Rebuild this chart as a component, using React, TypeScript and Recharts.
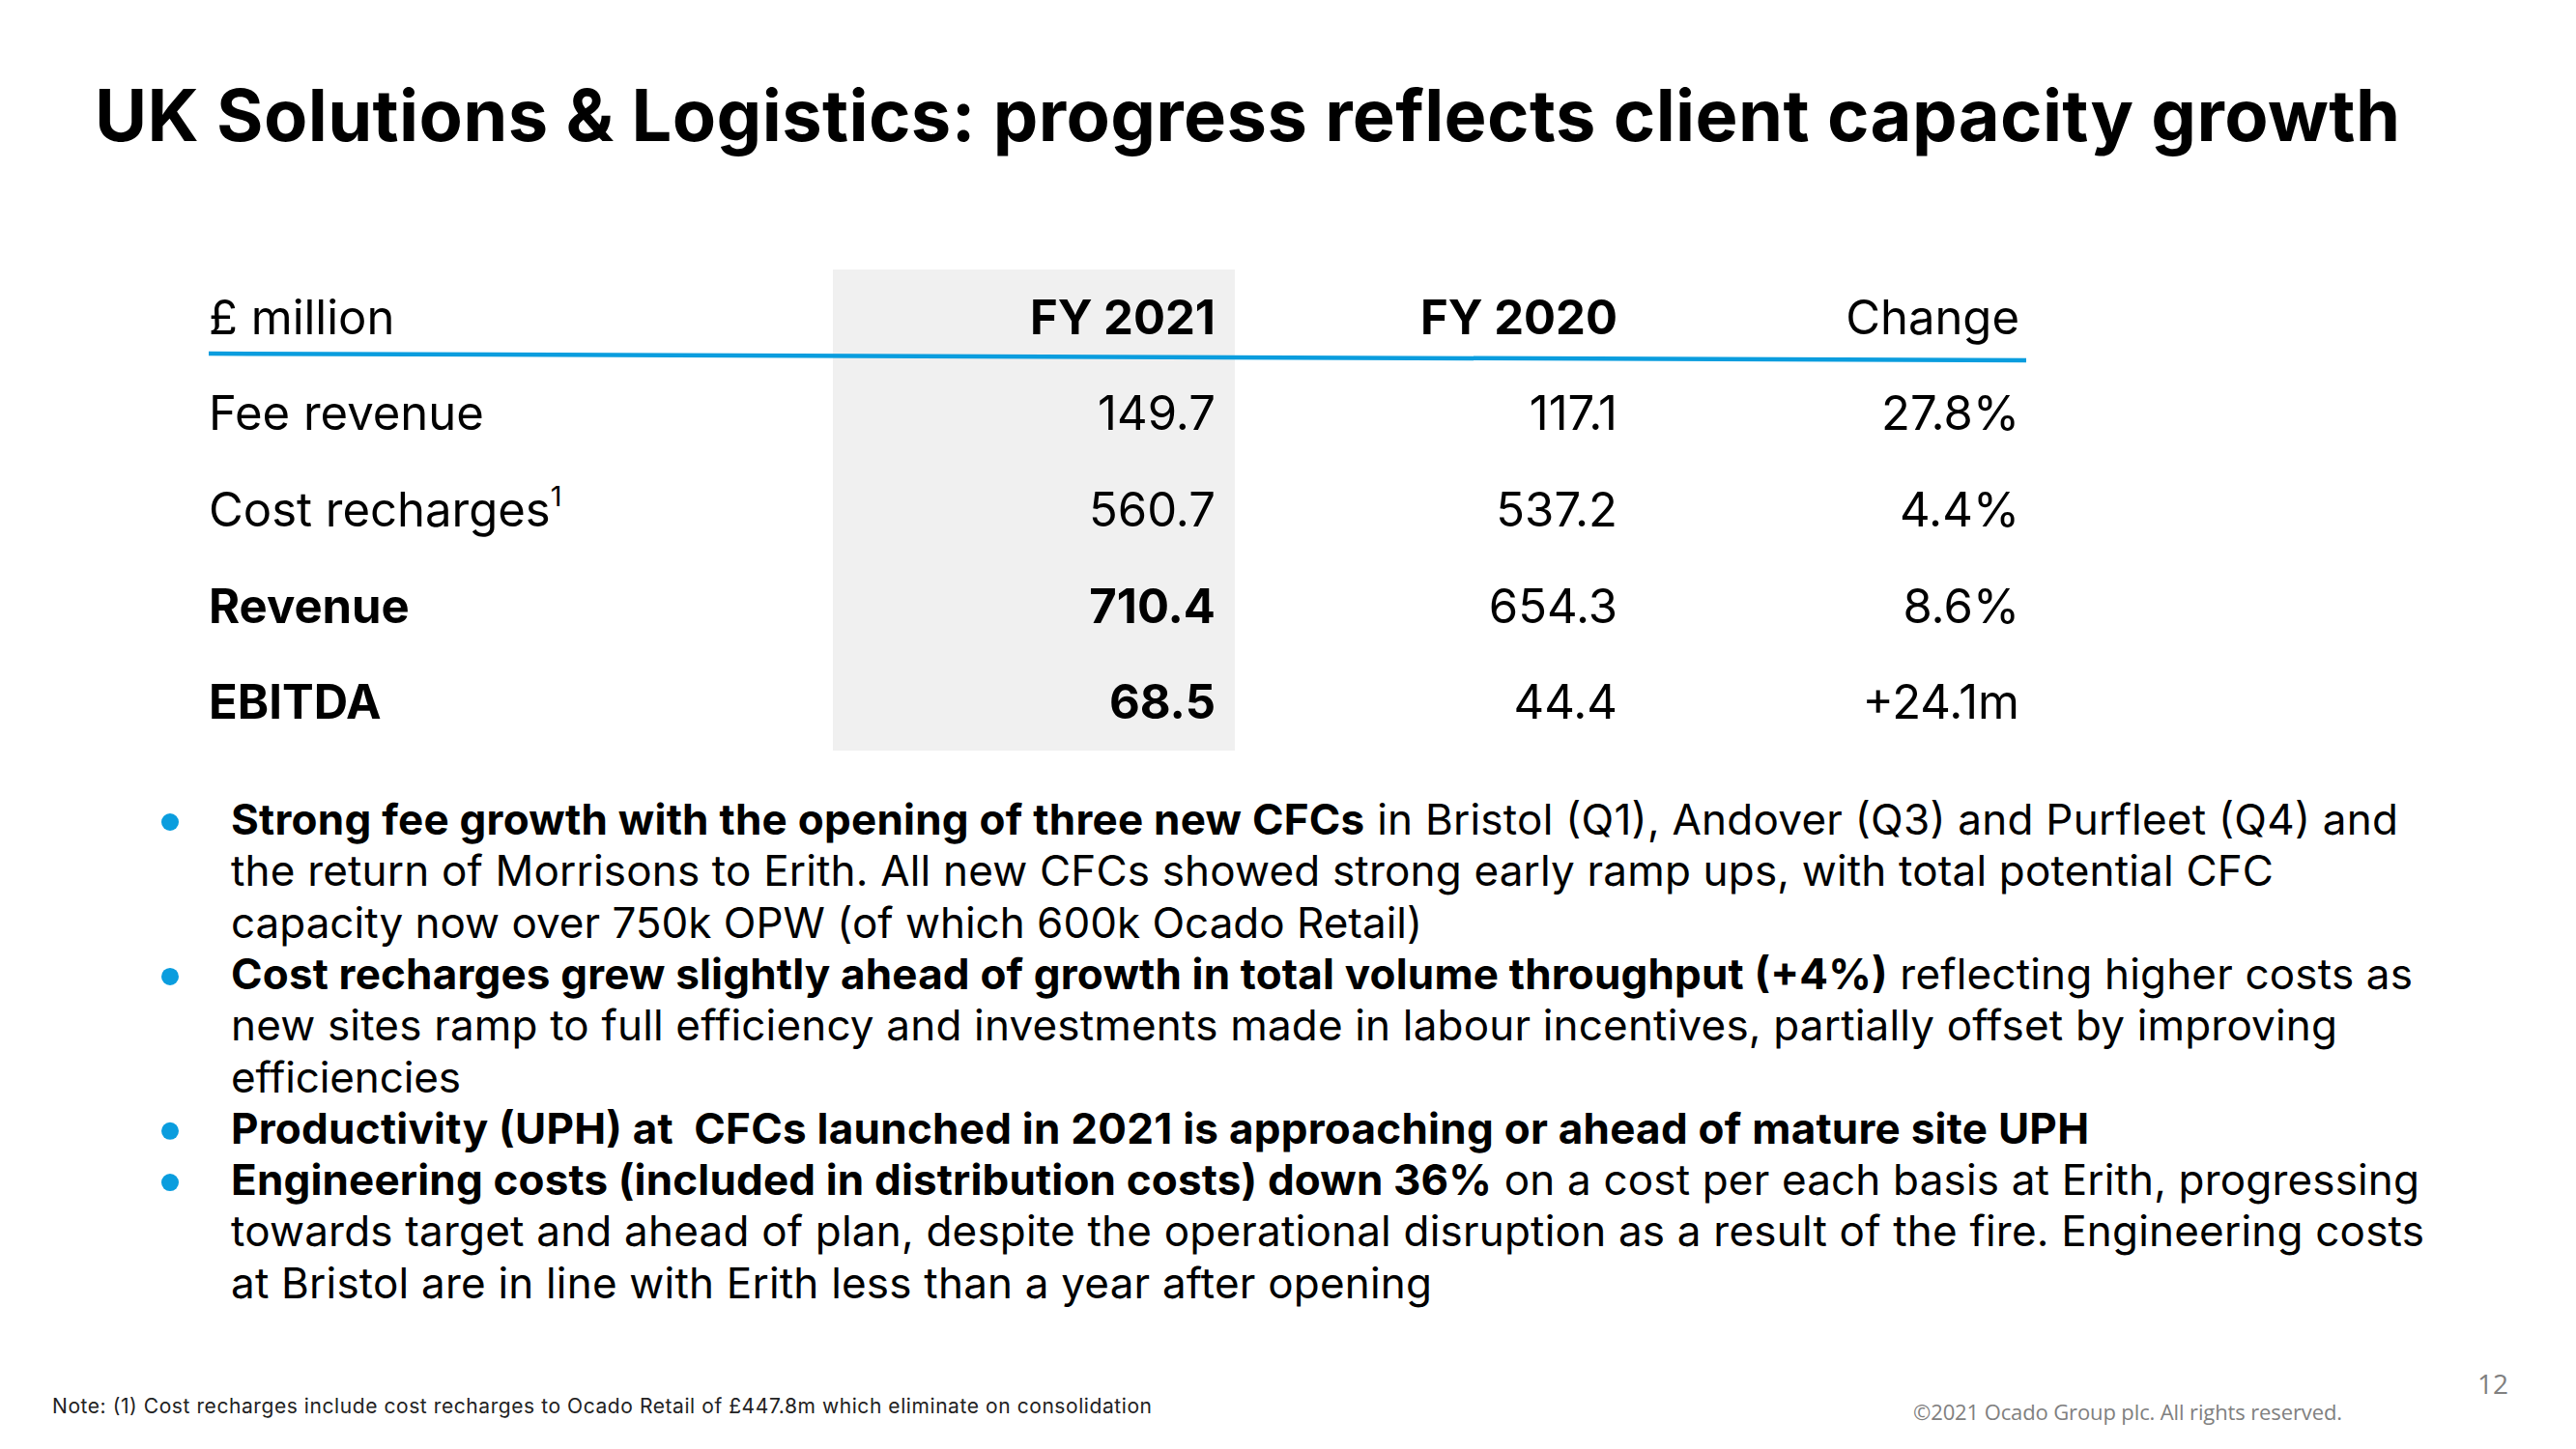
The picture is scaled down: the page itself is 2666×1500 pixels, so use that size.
import React from 'react';
import { ScatterChart, Scatter, XAxis, YAxis, ReferenceArea } from 'recharts';

const title = 'UK Solutions & Logistics: progress reflects client capacity growth';
const unitLabel = '£ million';
const columns = ['FY 2021', 'FY 2020', 'Change'];
const boldHeaders = ['FY 2021', 'FY 2020'];
const rowLabels = ['Fee revenue', 'Cost recharges', 'Revenue', 'EBITDA'];
const fy2021 = ['149.7', '560.7', '710.4', '68.5'];
const fy2020 = ['117.1', '537.2', '654.3', '44.4'];
const changes = ['27.8%', '4.4%', '8.6%', '+24.1m'];
const boldRows = ['Revenue', 'EBITDA'];
const footnoteRows = ['Cost recharges'];
const highlightColumn = 'FY 2021';

type Seg = { t: string; b: boolean };
const bulletLines: { bullet: boolean; segs: Seg[]; w: number }[] = [
  { bullet: true, w: 2243, segs: [
    { t: 'Strong fee growth with the opening of three new CFCs', b: true },
    { t: ' in Bristol (Q1), Andover (Q3) and Purfleet (Q4) and', b: false }] },
  { bullet: false, w: 2114, segs: [
    { t: 'the return of Morrisons to Erith. All new CFCs showed strong early ramp ups, with total potential CFC', b: false }] },
  { bullet: false, w: 1233, segs: [
    { t: 'capacity now over 750k OPW (of which 600k Ocado Retail)', b: false }] },
  { bullet: true, w: 2258, segs: [
    { t: 'Cost recharges grew slightly ahead of growth in total volume throughput (+4%)', b: true },
    { t: ' reflecting higher costs as', b: false }] },
  { bullet: false, w: 2180, segs: [
    { t: 'new sites ramp to full efficiency and investments made in labour incentives, partially offset by improving', b: false }] },
  { bullet: false, w: 238, segs: [{ t: 'efficiencies', b: false }] },
  { bullet: true, w: 1923, segs: [
    { t: 'Productivity (UPH) at  CFCs launched in 2021 is approaching or ahead of mature site UPH', b: true }] },
  { bullet: true, w: 2265, segs: [
    { t: 'Engineering costs (included in distribution costs) down 36%', b: true },
    { t: ' on a cost per each basis at Erith, progressing', b: false }] },
  { bullet: false, w: 2270, segs: [
    { t: 'towards target and ahead of plan, despite the operational disruption as a result of the fire. Engineering costs', b: false }] },
  { bullet: false, w: 1243, segs: [
    { t: 'at Bristol are in line with Erith less than a year after opening', b: false }] },
];

const footnote = 'Note: (1) Cost recharges include cost recharges to Ocado Retail of £447.8m which eliminate on consolidation';
const copyright = '©2021 Ocado Group plc. All rights reserved.';
const pageNumber = '12';

const W = 2666;
const H = 1500;
const FONT = 'Inter, sans-serif';
const BLUE = '#0A9DDE';
const MARGIN = { top: 279, right: 556, bottom: 723, left: 216 };
const YW = 646;
const COL_BAND = (W - MARGIN.left - MARGIN.right - YW) / columns.length;
const CELL_PAD = 20;

type Cell = { row: string; col: string; text: string; bold: boolean };
const cells: Cell[] = [];
columns.forEach((c) => cells.push({ row: unitLabel, col: c, text: c, bold: boldHeaders.includes(c) }));
rowLabels.forEach((r, i) => {
  cells.push({ row: r, col: 'FY 2021', text: fy2021[i], bold: boldRows.includes(r) });
  cells.push({ row: r, col: 'FY 2020', text: fy2020[i], bold: false });
  cells.push({ row: r, col: 'Change', text: changes[i], bold: false });
});

const RowTick = (props: any) => {
  const { x, y, payload } = props;
  const label: string = payload.value;
  const bold = boldRows.includes(label);
  return (
    <text x={x - YW} y={y + 17} fontFamily={FONT} fontSize={49} fontWeight={bold ? 700 : 400} fill="#000" textAnchor="start">
      {label}
      {footnoteRows.includes(label) ? (
        <tspan fontSize={29} dy={-21}>1</tspan>
      ) : null}
    </text>
  );
};

const CellShape = (props: any) => {
  const { cx, cy, payload } = props;
  if (cx == null || cy == null) return null;
  return (
    <text x={cx + COL_BAND / 2 - CELL_PAD} y={cy + 17} fontFamily={FONT} fontSize={49} fontWeight={payload.bold ? 700 : 400} fill="#000" textAnchor="end">
      {payload.text}
    </text>
  );
};

const LINE0 = 864;
const LINE_H = 53.3;

export default function App() {
  return (
    <div style={{ position: 'absolute', left: 0, top: 0, width: W, height: H, background: '#fff', overflow: 'hidden' }}>
      <div style={{ position: 'absolute', left: 0, top: 0 }}>
        <ScatterChart width={W} height={H} margin={MARGIN}>
          <XAxis dataKey="col" type="category" allowDuplicatedCategory={false} hide />
          <YAxis dataKey="row" type="category" allowDuplicatedCategory={false} width={YW} axisLine={false} tickLine={false} tickSize={0} tickMargin={0} interval={0} reversed tick={<RowTick />} />
          <ReferenceArea x1={highlightColumn} x2={highlightColumn} fill="#F0F0F0" fillOpacity={1} stroke="none" ifOverflow="visible" />
          <Scatter data={cells} isAnimationActive={false} shape={<CellShape />} />
        </ScatterChart>
      </div>
      <svg width={W} height={H} style={{ position: 'absolute', left: 0, top: 0, pointerEvents: 'none' }}>
        <text x={98} y={146} fontFamily={FONT} fontSize={74} fontWeight={700} fill="#000" textLength={2386} lengthAdjust="spacing">
          {title}
        </text>
        <line x1={216} y1={366} x2={2097} y2={373} stroke={BLUE} strokeWidth={4.5} />
        {bulletLines.map((ln, i) => {
          const y = LINE0 + i * LINE_H;
          return (
            <g key={i}>
              {ln.bullet ? <circle cx={176} cy={y - 13} r={9} fill={BLUE} /> : null}
              <text x={239} y={y} fontFamily={FONT} fontSize={44} fill="#000" textLength={ln.w} lengthAdjust="spacing" style={{ whiteSpace: 'pre' }}>
                {ln.segs.map((s, j) => (
                  <tspan key={j} fontWeight={s.b ? 700 : 400}>{s.t}</tspan>
                ))}
              </text>
            </g>
          );
        })}
        <text x={54} y={1463} fontFamily={FONT} fontSize={21} fill="#222" textLength={1138} lengthAdjust="spacing">
          {footnote}
        </text>
        <text x={1980} y={1470} fontFamily="'Open Sans', sans-serif" fontSize={22} fill="#808080" textLength={444} lengthAdjust="spacing">
          {copyright}
        </text>
        <text x={2564} y={1443} fontFamily="'Open Sans', sans-serif" fontSize={28} fill="#808080">
          {pageNumber}
        </text>
      </svg>
    </div>
  );
}
